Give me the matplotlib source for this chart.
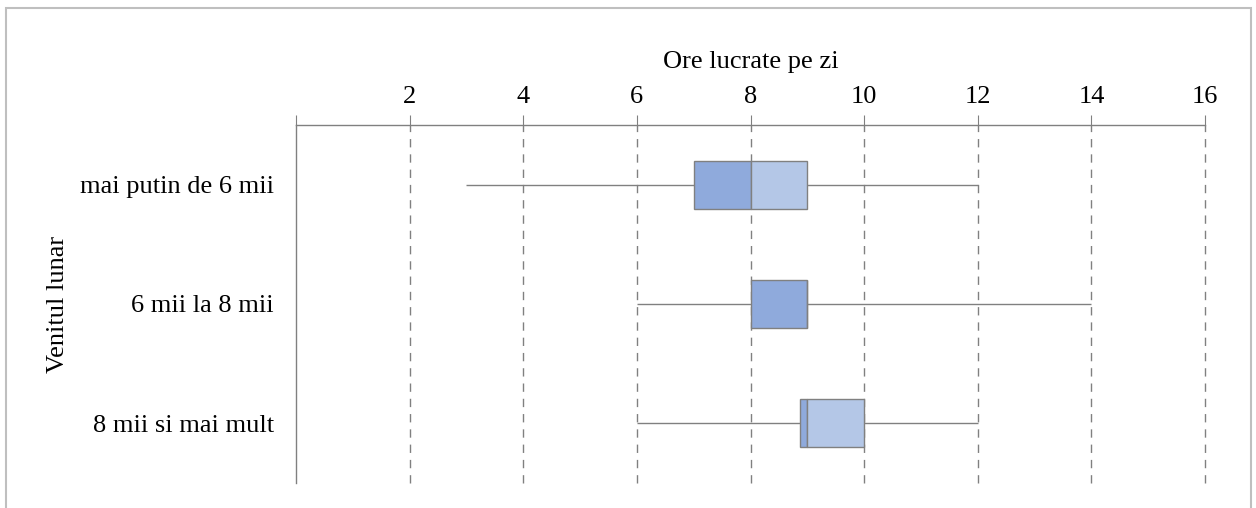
import matplotlib
matplotlib.use('Agg')
import matplotlib.pyplot as plt
import numpy as np

plt.rcParams['font.family'] = ['Liberation Serif', 'DejaVu Serif']

# data
categories = ['mai putin de 6 mii', '6 mii la 8 mii', '8 mii si mai mult']
whisk_lo = [3, 6, 6]
q1 = [7, 8, 8.875]
median = [8, 9, 9]
q3 = [9, 9, 10]
whisk_hi = [12, 14, 12]
xticks = [0, 2, 4, 6, 8, 10, 12, 14, 16]

dark = '#8faadc'
light = '#b4c7e7'
grey = '#808080'
fs = 19

fig = plt.figure(figsize=(12.56, 5.08), dpi=100)
ax = fig.add_axes([296/1256, 1-483/508, (1205-296)/1256, (483-125)/508])

# frame round the whole chart
fig.patches.append(plt.Rectangle((6/1256, -0.05), (1251-6)/1256, 1-8/508+0.05,
                                 transform=fig.transFigure, fill=False,
                                 edgecolor='#bfbfbf', lw=1.5))

y = np.arange(len(categories))
ax.hlines(y, whisk_lo, whisk_hi, color=grey, lw=1, zorder=2)
q1a = np.array(q1); meda = np.array(median); q3a = np.array(q3)
ax.barh(y, meda - q1a, left=q1a, height=0.4, color=dark, edgecolor=grey, lw=1, zorder=3)
ax.barh(y, q3a - meda, left=meda, height=0.4, color=light, edgecolor=grey, lw=1, zorder=3)

ax.set_xlim(0, 16)
ax.set_ylim(len(categories) - 0.5, -0.5)
ax.set_yticks(y)
ax.set_yticklabels(categories, fontsize=fs)
ax.tick_params(axis='y', length=0, pad=16)

ax.xaxis.set_ticks_position('top')
ax.xaxis.set_label_position('top')
ax.set_xticks(xticks)
ax.set_xticklabels([''] + [str(t) for t in xticks[1:]], fontsize=fs)
ax.tick_params(axis='x', direction='out', length=7, color=grey, pad=5)
ax.set_xlabel('Ore lucrate pe zi', fontsize=fs, labelpad=13)
ax.set_ylabel('Venitul lunar', fontsize=fs, labelpad=8)

for t in xticks[1:]:
    ax.axvline(t, color=grey, lw=1, ls=(0, (6, 5)), zorder=1, clip_on=False)

for s in ['right', 'bottom']:
    ax.spines[s].set_visible(False)
for s in ['top', 'left']:
    ax.spines[s].set_color(grey)
    ax.spines[s].set_linewidth(1)

fig.savefig('out.png', dpi=100)
